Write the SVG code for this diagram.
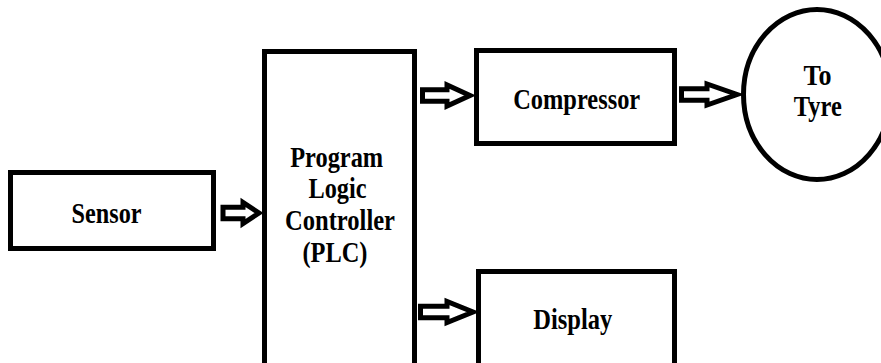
<svg xmlns="http://www.w3.org/2000/svg" width="881" height="363" viewBox="0 0 881 363">
<style>
.box{fill:#fff;stroke:#000;stroke-width:5}
.arr{fill:#fff;stroke:#000;stroke-width:5;stroke-linejoin:miter}
.t{font-family:"Liberation Serif","Times New Roman",serif;font-weight:bold;font-size:29px;fill:#000;text-anchor:middle}
</style>
<rect width="881" height="363" fill="#fff"/>
<g id="sensor">
<rect class="box" x="10.5" y="172.5" width="203" height="76"/>
<text class="t" x="106.5" y="222.5" textLength="70" lengthAdjust="spacingAndGlyphs">Sensor</text>
</g>
<g id="plc">
<rect class="box" x="264.5" y="51.5" width="150" height="320"/>
<text class="t" x="336.7" y="167.3" textLength="93" lengthAdjust="spacingAndGlyphs">Program</text>
<text class="t" x="337.5" y="197.7" textLength="58" lengthAdjust="spacingAndGlyphs">Logic</text>
<text class="t" x="340" y="230" textLength="110" lengthAdjust="spacingAndGlyphs">Controller</text>
<text class="t" x="335" y="261.7" textLength="65" lengthAdjust="spacingAndGlyphs">(PLC)</text>
</g>
<g id="compressor">
<rect class="box" x="476.5" y="50.5" width="198" height="93"/>
<text class="t" x="576.7" y="108.5" textLength="127" lengthAdjust="spacingAndGlyphs">Compressor</text>
</g>
<g id="display">
<rect class="box" x="478.5" y="271.5" width="196" height="100"/>
<text class="t" x="572.8" y="329" textLength="79" lengthAdjust="spacingAndGlyphs">Display</text>
</g>
<g id="tyre">
<ellipse class="box" cx="817" cy="94.5" rx="73.5" ry="85"/>
<text class="t" x="817.5" y="85" textLength="28" lengthAdjust="spacingAndGlyphs">To</text>
<text class="t" x="817.8" y="115.5" textLength="48" lengthAdjust="spacingAndGlyphs">Tyre</text>
</g>
<g id="connectors">
<path class="arr" d="M223,207.2 H243 V202.5 L259,213 L243,223.5 V218.8 H223 Z"/>
<path class="arr" d="M422.5,89.7 H447 V85 L470,95.5 L447,106 V101.3 H422.5 Z"/>
<path class="arr" d="M681.5,88.7 H707 V84 L737,94.5 L707,105 V100.3 H681.5 Z"/>
<path class="arr" d="M420.5,306.2 H447 V301.5 L473,312 L447,322.5 V317.8 H420.5 Z"/>
</g>
</svg>
